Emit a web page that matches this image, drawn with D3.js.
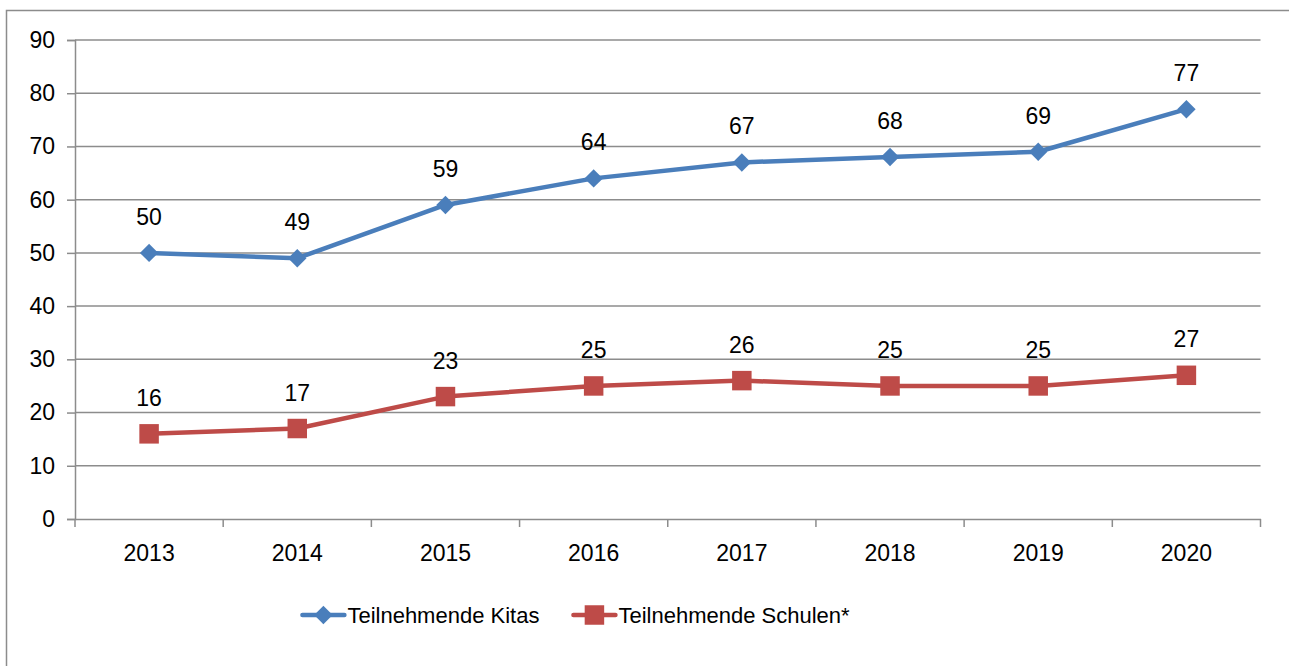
<!DOCTYPE html>
<html>
<head>
<meta charset="utf-8">
<script src="https://cdn.jsdelivr.net/npm/d3@7"></script>
<style>
  body { margin: 0; background: #fff; }
  text { font-family: "Liberation Sans", Arial, sans-serif; fill: #000; }
</style>
</head>
<body>
<script>
// chart data
var years = ['2013', '2014', '2015', '2016', '2017', '2018', '2019', '2020'];
var kitas = [50, 49, 59, 64, 67, 68, 69, 77];
var schulen = [16, 17, 23, 25, 26, 25, 25, 27];
var yTicks = [0, 10, 20, 30, 40, 50, 60, 70, 80, 90];
var seriesNames = ['Teilnehmende Kitas', 'Teilnehmende Schulen*'];

var WIDTH = 1289;
var HEIGHT = 666;
var LEFT = 75, RIGHT = 1260.5, TOP = 40, BOTTOM = 519;
var FONT_SIZE = 23;
var GRID = '#8c8c8c';
var BLUE = '#4a7ebb';
var RED = '#be4b48';
var DIAMOND = 170, SQUARE = 380;

var svg = d3.select('body').append('svg')
    .attr('width', WIDTH)
    .attr('height', HEIGHT);

// outer frame (runs off right and bottom edge)
svg.append('rect')
    .attr('x', 6.5).attr('y', 10.5)
    .attr('width', WIDTH + 10).attr('height', HEIGHT + 10)
    .attr('fill', 'none').attr('stroke', GRID).attr('stroke-width', 1.5);

var x = d3.scaleBand().domain(years).range([LEFT, RIGHT]);
var y = d3.scaleLinear().domain([0, 90]).range([BOTTOM, TOP]);
var cx = function(d, i){ return x(years[i]) + x.bandwidth()/2; };

// gridlines
svg.selectAll('.grid').data(yTicks.slice(1)).enter()
    .append('line')
    .attr('class', 'grid')
    .attr('x1', LEFT).attr('x2', RIGHT)
    .attr('y1', function(d){ return y(d); })
    .attr('y2', function(d){ return y(d); })
    .attr('stroke', GRID).attr('stroke-width', 1.5);

// y axis
var yAxis = svg.append('g')
    .attr('transform', 'translate(' + LEFT + ',0)')
    .call(d3.axisLeft(y).tickValues(yTicks).tickSize(8).tickPadding(12));
yAxis.select('.domain').attr('stroke', GRID).attr('stroke-width', 1.5);
yAxis.selectAll('.tick line').attr('stroke', GRID).attr('stroke-width', 1.5);
yAxis.selectAll('text').attr('font-size', FONT_SIZE).attr('font-family', null).attr('fill', '#000');

// x axis with ticks between categories
var xAxis = svg.append('g')
    .attr('transform', 'translate(0,' + BOTTOM + ')')
    .call(d3.axisBottom(x).tickSize(0).tickPadding(26));
xAxis.select('.domain').attr('stroke', GRID).attr('stroke-width', 1.5);
xAxis.selectAll('text').attr('font-size', FONT_SIZE).attr('font-family', null).attr('fill', '#000');
var bounds = years.map(function(d){ return x(d); }).concat([RIGHT]);
xAxis.selectAll('.sep').data(bounds).enter()
    .append('line')
    .attr('x1', function(d){ return d; }).attr('x2', function(d){ return d; })
    .attr('y1', 0).attr('y2', 8)
    .attr('stroke', GRID).attr('stroke-width', 1.5);

var line = d3.line()
    .x(function(d, i){ return cx(d, i); })
    .y(function(d){ return y(d); });

function markerPath(diamond){
    return d3.symbol().type(d3.symbolSquare).size(diamond ? DIAMOND : SQUARE)();
}

function drawSeries(values, color, diamond){
    svg.append('path')
        .datum(values)
        .attr('d', line)
        .attr('fill', 'none')
        .attr('stroke', color)
        .attr('stroke-width', 4.5)
        .attr('stroke-linejoin', 'round');
    svg.selectAll(null).data(values).enter()
        .append('path')
        .attr('d', markerPath(diamond))
        .attr('transform', function(d, i){
            return 'translate(' + cx(d, i) + ',' + y(d) + ')' + (diamond ? ' rotate(45)' : '');
        })
        .attr('fill', color);
    svg.selectAll(null).data(values).enter()
        .append('text')
        .attr('x', function(d, i){ return cx(d, i); })
        .attr('y', function(d){ return y(d) - 28; })
        .attr('text-anchor', 'middle')
        .attr('font-size', FONT_SIZE)
        .text(function(d){ return d; });
}

drawSeries(kitas, BLUE, true);
drawSeries(schulen, RED, false);

// legend, centred under the plot
var LEG_Y = 615, LEG_GAP = 34;
var legend = svg.append('g');
var lx = 0;
[{name: seriesNames[0], color: BLUE, diamond: true},
 {name: seriesNames[1], color: RED, diamond: false}].forEach(function(l){
    var g = legend.append('g').attr('transform', 'translate(' + lx + ',0)');
    g.append('line').attr('x1', 0).attr('x2', 42).attr('y1', 0).attr('y2', 0)
        .attr('stroke', l.color).attr('stroke-width', 4.5).attr('stroke-linecap', 'round');
    g.append('path')
        .attr('d', markerPath(l.diamond))
        .attr('transform', 'translate(21,0)' + (l.diamond ? ' rotate(45)' : ''))
        .attr('fill', l.color);
    var t = g.append('text').attr('x', 45).attr('y', 0).attr('dy', '0.35em')
        .attr('font-size', 22)
        .text(l.name);
    lx += 45 + t.node().getComputedTextLength() + LEG_GAP;
});
var legW = lx - LEG_GAP;
legend.attr('transform', 'translate(' + (576 - legW/2) + ',' + LEG_Y + ')');
</script>
</body>
</html>
